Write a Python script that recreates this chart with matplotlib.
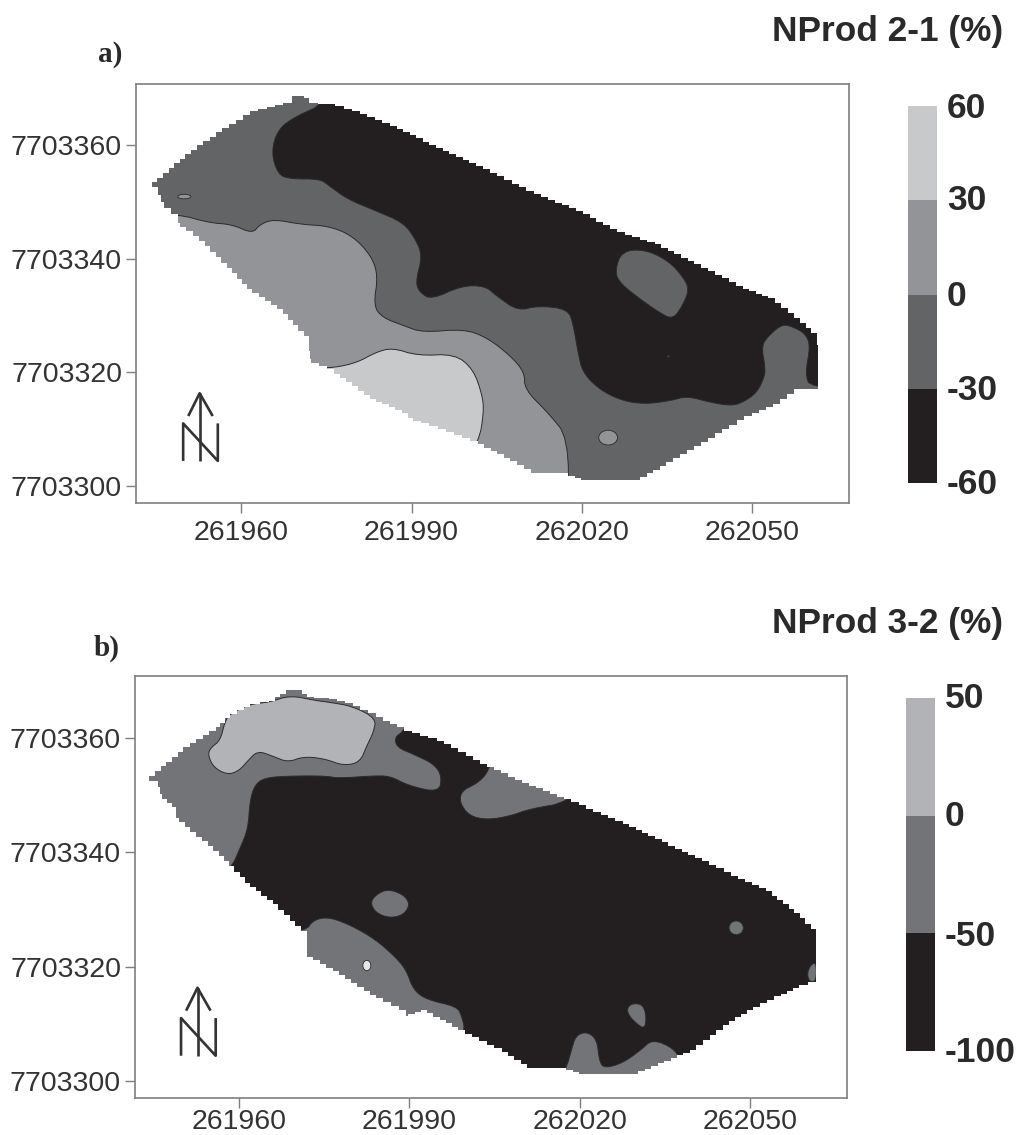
import numpy as np
import matplotlib
matplotlib.use("Agg")
import matplotlib.pyplot as plt
from matplotlib.patches import Polygon, Ellipse
from matplotlib.colors import BoundaryNorm, ListedColormap

plt.rcParams['font.family'] = ['Liberation Sans', 'DejaVu Sans']

E0 = 261900
N0 = 7703300
x_ticks = [261960, 261990, 262020, 262050]
y_ticks = [7703300, 7703320, 7703340, 7703360]

title_a = "NProd 2-1 (%)"
title_b = "NProd 3-2 (%)"
levels_a = [-60, -30, 0, 30, 60]
levels_b = [-100, -50, 0, 50]
colors_a = ['#231f20', '#636466', '#939497', '#c8c9cb']
colors_b = ['#231f20', '#737477', '#b1b3b6']

# Boundaries are easting/northing offsets (m) from E0, N0.
a_field = [(44.3,53.4),(50.2,58.4),(55.5,62.2),(61.6,65.9),(67.4,67.4),(69.0,68.6),(71.0,68.3),(71.9,67.3),
           (75.1,67.2),(79.6,65.9),(86.2,63.3),(94.3,59.5),(102.5,55.7),(111.5,51.3),(118.9,48.4),(126.2,44.6),
           (132.8,42.5),(140.9,38.4),(148.3,34.6),(152.8,33.1),(157.3,29.6),(161.4,26.1),(161.6,17.0),(158.5,17.0),
           (154.8,14.4),(149.9,12.3),(145.9,10.0),(140.9,7.0),(134.8,3.5),(130.3,1.0),(120.9,1.0),(117.6,2.2),
           (112.3,2.2),(107.4,5.0),(101.7,7.9),(96.0,10.0),(90.3,12.0),(89.4,12.9),(83.7,15.3),(76.4,20.5),
           (72.3,22.3),(71.9,26.4),(67.4,31.1),(62.0,34.6),(57.5,39.3),(52.6,44.0),(49.2,46.3),(48.9,47.8),
           (46.5,49.9),(45.3,52.5)]
a_low = [(171.2,17.3),(160.2,17.3),(159.3,19.7),(160.2,24.7),(159.3,26.8),(157.3,27.9),(155.3,28.5),(152.8,26.4),
         (151.6,24.6),(152.2,21.1),(152.2,19.4),(150.8,16.4),(148.3,14.7),(146.3,14.1),(142.6,14.7),(138.5,15.8),
         (135.6,15.0),(131.1,14.4),(127.0,15.0),(123.0,17.0),(120.1,20.0),(119.3,23.5),(118.5,28.2),(117.6,31.1),
         (112.3,31.7),(108.7,30.8),(105.0,33.4),(102.9,35.2),(98.8,35.2),(93.5,32.8),(91.5,34.0),(90.7,35.8),
         (91.9,40.5),(90.7,43.4),(88.6,46.3),(83.7,48.4),(78.8,50.4),(75.5,52.8),(73.9,54.0),(68.6,54.0),
         (66.5,54.8),(65.3,58.7),(66.5,62.8),(69.8,65.1),(74.7,67.2),(73,71.6),(171.2,71.6)]
a_island = [(127.0,41.3),(131.1,41.6),(135.2,39.6),(137.7,36.9),(138.9,34.6),(137.7,31.7),(136.0,29.3),(133.6,30.5),
            (129.5,33.4),(126.6,35.8),(125.8,37.8)]
a_mid = [(40,47.8),(49.0,47.8),(54.3,46.3),(58.4,46.0),(62.0,44.4),(63.3,46.0),(65.7,46.9),(70.6,46.0),(75.5,45.7),
         (79.6,44.0),(82.9,40.5),(84.1,37.0),(83.3,31.7),(84.9,29.6),(88.6,28.2),(91.9,27.0),(99.2,27.6),(103.3,26.1),
         (107.4,22.9),(109.9,20.0),(109.9,17.0),(114.0,12.9),(117.6,8.5),(117.6,-4.7),(40,-4.7)]
a_high = [(76.4,20.8),(80.4,21.7),(83.7,23.5),(86.6,24.3),(91.1,22.9),(97.6,23.2),(100.9,20.5),(102.5,15.8),
          (102.7,12.9),(101.9,7.9),(97.6,1.2),(73,7),(73,20.8)]
# spots: east, north, width, height, colour class
a_spots = [(50.0,50.9,2.3,0.8,2),(124.6,8.5,3.3,2.6,2),(135.2,22.8,0.4,0.3,1)]

b_field = [(44.2,53.4),(50.2,58.4),(55.9,61.9),(58.4,64.3),(62.0,66.0),(65.3,66.6),(68.2,68.4),(70.2,68.4),(71.9,67.2),
           (75.9,66.9),(80.0,65.7),(84.1,63.7),(89.0,61.3),(94.8,59.6),(103.7,54.9),(111.1,51.7),(118.5,48.8),(127.5,44.9),
           (133.2,42.3),(141.4,38.5),(147.9,35.3),(152.8,33.2),(157.7,29.4),(161.6,25.6),(161.6,17.4),(158.5,16.2),
           (155.3,14.8),(150.4,12.4),(146.3,9.8),(140.5,5.4),(134.8,3.1),(130.3,1.2),(120.9,1.2),(117.6,2.2),(111.9,2.2),
           (106.2,5.7),(99.7,8.9),(93.1,12.4),(89.8,11.3),(89.4,12.4),(84.1,15.1),(77.6,19.2),(71.9,22.4),(71.9,26.2),
           (66.9,30.9),(62.0,34.7),(59.2,37.6),(55.5,41.1),(49.4,46.1),(49.0,47.9),(46.5,50.2),(45.7,52.6)]
b_high = [(54.5,57.2),(55.1,58.4),(56.7,59.6),(57.5,62.8),(58.4,64.3),(62.0,66.0),(65.3,66.3),(69.0,67.5),(73.5,66.6),
          (75.9,66.3),(80.0,65.6),(84.1,63.5),(83.7,61.1),(82.5,58.7),(81.3,55.8),(78.4,55.2),(75.1,56.4),(71.4,56.8),
          (68.6,55.8),(66.1,56.8),(63.3,57.8),(61.6,56.1),(60.0,54.3),(58.0,53.6),(55.5,54.9)]
b_low = [(58.8,37.6),(60.0,40.3),(61.6,44.1),(61.9,48.8),(62.7,51.7),(64.5,53.1),(69.4,53.4),(75.1,53.4),(77.6,53.0),
         (83.3,53.4),(86.6,53.4),(89.8,51.7),(95.2,50.5),(95.7,53.4),(94.3,55.5),(90.7,57.2),(87.8,58.4),(87.4,60.2),
         (89.0,61.2),(91.5,66.3),(106.2,60.5),(104.2,55.2),(103.3,53.4),(101.7,52.0),(99.2,50.8),(98.8,48.8),(100.5,46.4),
         (103.7,45.7),(107.8,46.4),(111.1,47.6),(118.1,48.8),(122.5,54.6),(171.6,54.6),(171.6,-4),(138.9,-4),(137.7,3.6),
         (136.5,5.7),(132.8,7.3),(130.7,5.4),(127.5,3.1),(124.2,2.2),(123.4,3.6),(123.0,7.2),(121.3,8.6),(119.3,8.0),
         (118.5,5.4),(117.6,2.2),(114.4,-4),(98,-4),(98.0,6.0),(99.8,8.9),(99.2,11.3),(98.4,13.0),(93.1,14.2),(90.7,15.9),
         (89.4,19.5),(87.4,21.8),(84.1,24.7),(80.0,27.1),(75.9,28.7),(73.1,28.2),(71.7,26.2),(65.3,26.2),(55.5,34.7)]
b_isl1 = [(86.2,33.6),(89.0,32.6),(90.1,30.9),(89.0,29.1),(86.6,28.5),(84.1,29.4),(83.1,31.2),(84.1,32.6)]
b_isl2 = [(129.5,13.6),(131.1,13.3),(131.7,11.3),(131.4,9.0),(129.5,10.4),(128.4,11.8),(128.4,13.0)]
b_isl3 = [(161.6,20.8),(160.6,20.3),(160.0,18.9),(160.3,17.4),(161.6,17.4)]
b_spots = [(147.5,26.8,2.5,2.4,1),(82.5,20.2,1.4,1.8,3)]

W, H = 1019, 1135
EDGE = '#2b2b2b'
BOX = '#7f7f7f'
TEXT = '#2a2a2a'


def stair(pts, step=1.35):
    out = []
    n = len(pts)
    for i in range(n):
        x0, y0 = pts[i]
        x1, y1 = pts[(i + 1) % n]
        k = max(1, int(round(np.hypot(x1 - x0, y1 - y0) / step)))
        xs = np.linspace(x0, x1, k + 1)
        ys = np.linspace(y0, y1, k + 1)
        for j in range(k):
            out.append((xs[j], ys[j]))
            out.append((xs[j + 1], ys[j]))
    return out


def smooth(pts, rounds=2):
    p = np.asarray(pts, float)
    for _ in range(rounds):
        q = np.roll(p, -1, axis=0)
        p = np.column_stack([0.75 * p + 0.25 * q, 0.25 * p + 0.75 * q]).reshape(-1, 2)
    return p


def off(pts):
    return [(E0 + e, N0 + n) for e, n in pts]


def make_axes(l, r, t, b):
    return fig.add_axes([l / W, 1 - b / H, (r - l) / W, (b - t) / H])


def panel(ax, field, base, regions, spots, colors, xlim, ylim, xpad):
    ax.set_xlim(E0 + xlim[0], E0 + xlim[1])
    ax.set_ylim(N0 + ylim[0], N0 + ylim[1])
    clip = Polygon(off(stair(field)), closed=True, transform=ax.transData)
    ax.add_patch(Polygon(off(stair(field)), closed=True, fc=colors[base], ec='none', zorder=1))
    for pts, c in regions:
        p = Polygon(off(smooth(pts)), closed=True, fc=colors[c], ec=EDGE, lw=0.7, zorder=2)
        ax.add_patch(p)
        p.set_clip_path(clip)
    for e, n, w, h, c in spots:
        col = colors[c] if c < len(colors) else '#e6e6e6'
        ax.add_patch(Ellipse((E0 + e, N0 + n), w, h, fc=col, ec=EDGE, lw=0.6, zorder=3))
    ax.set_xticks(x_ticks)
    ax.set_yticks(y_ticks)
    ax.set_xticklabels([str(v) for v in x_ticks])
    ax.set_yticklabels([str(v) for v in y_ticks])
    ax.tick_params(length=7, width=1, color=BOX, labelsize=20.5, labelcolor='#333333')
    ax.tick_params(axis='x', pad=xpad)
    ax.tick_params(axis='y', pad=3)
    for s in ax.spines.values():
        s.set_color(BOX)
        s.set_linewidth(1.2)
    # north arrow
    arrow = dict(color='#333333', lw=1.9, zorder=4, solid_capstyle='butt')
    ax.plot([E0 + 52.7] * 2, [N0 + 4.4, N0 + 16.3], **arrow)
    ax.plot([E0 + 50.7, E0 + 52.7, E0 + 55.0], [N0 + 12.3, N0 + 16.3, N0 + 12.3], **arrow)
    ax.plot([E0 + 49.8, E0 + 49.8, E0 + 55.9, E0 + 55.9], [N0 + 4.4, N0 + 11.0, N0 + 4.4, N0 + 11.0], **arrow)


def colorbar(l, r, t, b, levels, colors, label_x, label_y):
    ax = make_axes(l, r, t, b)
    cmap = ListedColormap(colors)
    ax.pcolormesh([0, 1], levels, np.array(levels[:-1]).reshape(-1, 1) + 0.5,
                  cmap=cmap, norm=BoundaryNorm(levels, cmap.N))
    ax.axis('off')
    for lev, y in zip(levels, label_y):
        fig.text(label_x / W, 1 - y / H, str(lev), fontsize=25.5, color=TEXT, fontweight='bold',
                 ha='left', va='center')


fig = plt.figure(figsize=(W / 100, H / 100), dpi=100, facecolor='white')

ax_a = make_axes(136, 849, 84, 503)
panel(ax_a, a_field, 1, [(a_mid, 2), (a_high, 3), (a_low, 0), (a_island, 1)], a_spots, colors_a,
      (41.5, 167), (-3, 70.7), 5)
ax_b = make_axes(135, 847, 676, 1098)
panel(ax_b, b_field, 1, [(b_high, 2), (b_low, 0), (b_isl1, 1), (b_isl2, 1), (b_isl3, 1)], b_spots, colors_b,
      (41.7, 167), (-3, 70.9), 1)

colorbar(908, 937, 106, 483, levels_a, colors_a, 947, [485, 391, 296, 201, 108])
colorbar(906, 935, 698, 1051, levels_b, colors_b, 945, [1053, 936, 816, 698])

fig.text(1003 / W, 1 - 32 / H, title_a, fontsize=25.4, fontweight='bold', color=TEXT, ha='right', va='center')
fig.text(1003 / W, 1 - 624 / H, title_b, fontsize=25.4, fontweight='bold', color=TEXT, ha='right', va='center')
fig.text(110 / W, 1 - 55 / H, 'a)', fontsize=21, family='Liberation Serif', fontweight='bold', color=TEXT, ha='center', va='center')
fig.text(107 / W, 1 - 648 / H, 'b)', fontsize=21, family='Liberation Serif', fontweight='bold', color=TEXT, ha='center', va='center')

fig.savefig('out.png', dpi=100)
